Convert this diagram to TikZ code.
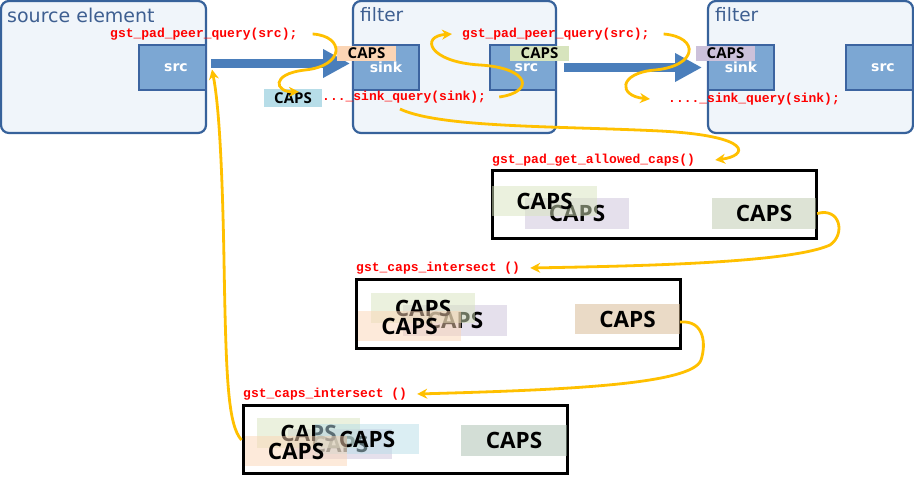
\documentclass[tikz,border=0pt]{standalone}
\usepackage{fontspec}
\setmainfont{DejaVu Sans}
\newfontfamily\capsfont{Open Sans}
\newfontfamily\codefont{Liberation Mono}
\usetikzlibrary{arrows.meta}
\definecolor{elfill}{RGB}{240,245,250}
\definecolor{elborder}{RGB}{55,98,155}
\definecolor{padfill}{RGB}{124,167,211}
\definecolor{padborder}{RGB}{60,100,160}
\definecolor{ellabel}{RGB}{62,95,145}
\definecolor{arrowblue}{RGB}{74,126,187}
\definecolor{qyellow}{RGB}{255,192,0}
\definecolor{cpeach}{RGB}{251,213,181}
\definecolor{cblue}{RGB}{183,221,232}
\definecolor{cgreen}{RGB}{215,228,189}
\definecolor{clav}{RGB}{204,193,218}
\definecolor{cgg}{RGB}{187,199,171}
\definecolor{ctan}{RGB}{213,181,141}
\definecolor{csage}{RGB}{167,189,173}
\begin{document}
\begin{tikzpicture}[x=1pt,y=-1pt,
  element/.style={draw=elborder, line width=2.2pt, fill=elfill, rounded corners=8pt, inner sep=0pt, minimum height=132pt},
  ellab/.style={anchor=west, inner sep=0pt, text=ellabel, font=\fontsize{18.5}{18.5}\selectfont},
  pad/.style={draw=padborder, line width=2pt, fill=padfill, inner sep=0pt, minimum height=45pt, text=white, font=\bfseries\fontsize{14}{14}\selectfont},
  tag/.style={inner sep=0pt, minimum width=59pt, minimum height=15pt, font=\capsfont\bfseries\fontsize{15}{15}\selectfont},
  code/.style={anchor=west, inner sep=0pt, text=red, font=\codefont\bfseries\fontsize{13}{13}\selectfont},
  result/.style={draw=black, line width=3pt, inner sep=0pt, minimum width=324pt, minimum height=68pt},
  bigcaps/.style={inner sep=0pt, minimum width=104pt, minimum height=31pt, fill opacity=0.5, text opacity=1, font=\capsfont\bfseries\fontsize{22.5}{22.5}\selectfont},
  flow/.style={draw=arrowblue, line width=9pt, -{Triangle[length=27pt,width=27pt]}},
  query/.style={draw=qyellow, line width=2.8pt, -{Stealth[length=10pt,width=10pt]}}
]
\useasboundingbox (0,0) rectangle (914,481);

% elements
\node[element, minimum width=205pt] (srcel) at (103.5,67) {};
\node[ellab, font=\fontsize{19}{19}\selectfont] (srclab) at (7,15) {source element};
\node[pad, minimum width=67pt] (srcpad) at (172.5,67.5) {\hspace*{7pt}src};

\node[element, minimum width=203pt] (filt1) at (454.5,67) {};
\node[ellab] (f1lab) at (360,15) {filter};
\node[pad, minimum width=66pt] (f1sink) at (386,67.5) {sink};
\node[pad, minimum width=66pt] (f1src) at (523,67.5) {\hspace*{7pt}src};

\node[element, minimum width=205pt] (filt2) at (810.5,67) {};
\node[ellab] (f2lab) at (715,15) {filter};
\node[pad, minimum width=66pt] (f2sink) at (741,67.5) {sink};
\node[pad, minimum width=67pt] (f2src) at (879.5,67.5) {\hspace*{7pt}src};

% data flow arrows
\draw[flow] ([xshift=4pt,yshift=4pt]srcpad.east) -- ([xshift=-2pt,yshift=4pt]f1sink.west);
\draw[flow] ([xshift=7pt]f1src.east) -- ([xshift=-5pt]f2sink.west);

% small caps tags
\node[tag, fill=cpeach] (c1) at (366.5,53.5) {CAPS};
\node[tag, fill=cblue, minimum height=18pt, minimum width=58pt] (c2) at (293,98) {CAPS};
\node[tag, fill=cgreen] (c3) at (539.5,53.5) {CAPS};
\node[tag, fill=clav] (c4) at (725.5,53.5) {CAPS};

% code texts
\node[code] (t1) at (110,34) {gst\_pad\_peer\_query(src);};
\node[code] (t2) at (322,97) {...\_sink\_query(sink);};
\node[code] (t3) at (462,34) {gst\_pad\_peer\_query(src);};
\node[code] (t4) at (668,99) {....\_sink\_query(sink);};
\node[code] (t5) at (492,160) {gst\_pad\_get\_allowed\_caps()};
\node[code] (t6) at (356,268) {gst\_caps\_intersect ()};
\node[code] (t7) at (243,394) {gst\_caps\_intersect ()};

% result boxes
\node[result] (b1) at (654,205) {};
\node[bigcaps, fill=clav] (b1l) at (577,213.5) {CAPS};
\node[bigcaps, fill=cgreen, minimum width=105pt, minimum height=30pt] (b1g) at (544.5,201) {CAPS};
\node[bigcaps, fill=cgg] (b1r) at (764,213.5) {CAPS};

\node[result, minimum height=69pt] (b2) at (518,314.5) {};
\node[bigcaps, fill=clav] (b2l) at (455,320.5) {CAPS};
\node[bigcaps, fill=cgreen, minimum height=30pt] (b2g) at (423,308) {CAPS};
\node[bigcaps, fill=cpeach, minimum width=103pt, minimum height=30pt] (b2p) at (409.5,326) {CAPS};
\node[bigcaps, fill=ctan, minimum width=105pt, minimum height=30pt] (b2r) at (627.5,319) {CAPS};

\node[result] (b3) at (405,439) {};
\node[bigcaps, fill=clav, minimum height=30pt] (b3l) at (340,444) {CAPS};
\node[bigcaps, fill=cgreen, minimum width=103pt, minimum height=30pt] (b3g) at (308.5,433) {CAPS};
\node[bigcaps, fill=cblue, minimum height=30pt] (b3b) at (367,439) {CAPS};
\node[bigcaps, fill=cpeach, minimum width=102pt, minimum height=30pt] (b3p) at (296,451) {CAPS};
\node[bigcaps, fill=csage, minimum width=106pt] (b3r) at (514,440.5) {CAPS};

% query curves
\draw[query] ([xshift=15pt]t1.east) .. controls (345,36) and (345,66) .. (305,70)
             .. controls (270,74) and (275,92) .. ([xshift=6pt,yshift=-3pt]c2.north);
\draw[query] ([xshift=13pt]t2.east) .. controls (535,92) and (530,68) .. (480,65)
             .. controls (428,62) and (420,36) .. ([xshift=-10pt]t3.west);
\draw[query] ([xshift=14pt]t3.east) .. controls (700,37) and (698,66) .. (655,70)
             .. controls (618,73) and (618,96) .. ([xshift=-18pt]t4.west);
\draw[query] ([xshift=14pt,yshift=-18pt]f1sink.south) .. controls (440,128) and (560,126) .. (660,131)
             .. controls (755,136) and (748,156) .. ([xshift=20pt]t5.east);
\draw[query] ([xshift=1pt]b1r.east) .. controls (840,207) and (846,234) .. (830,245)
             .. controls (790,263) and (640,266) .. ([xshift=10pt]t6.east);
\draw[query] ([xshift=0pt,yshift=-3pt]b2r.east) .. controls (705,320) and (706,345) .. (701,360)
             .. controls (692,385) and (560,390) .. ([xshift=10pt]t7.east);
\draw[query] ([yshift=-1pt]b3.west) .. controls (228,425) and (226,380) .. (224,260)
             .. controls (222,150) and (218,100) .. ([xshift=5pt,yshift=-2pt]srcpad.east);
\end{tikzpicture}
\end{document}
